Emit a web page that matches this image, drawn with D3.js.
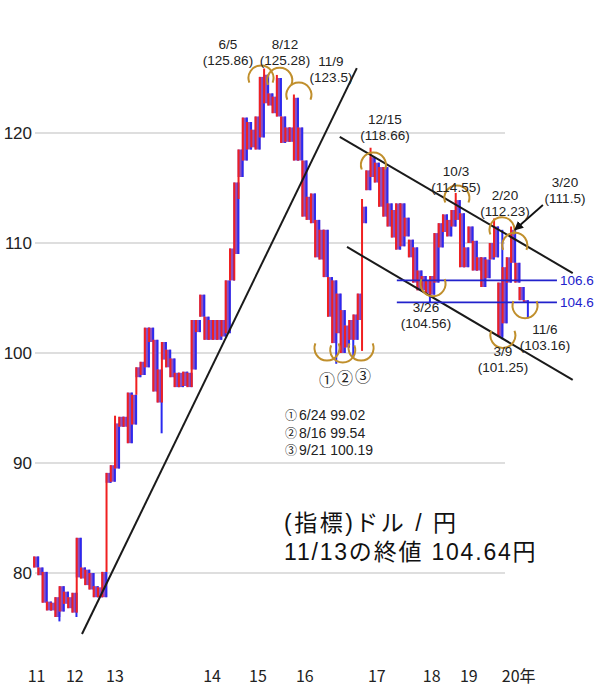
<!DOCTYPE html>
<html><head><meta charset="utf-8">
<script src="https://cdn.jsdelivr.net/npm/d3@7"></script>
<style>body{margin:0;background:#fff}svg{display:block}</style>
</head><body><svg id="c" width="600" height="686"></svg>
<script>
// ---- data ----
const opens  = [81.5,80.5,80.1,77.4,77.3,77.8,76.5,78.3,77.8,78.2,79.6,80.5,80.3,80.0,78.8,78.7,77.8,88.2,88.3,89.5,93.3,94.2,96.4,93.5,97.8,98.0,98.7,102.3,101.2,98.5,99.4,100.3,99.5,98.2,96.9,97.0,98.2,98.5,103.0,103.3,103.3,103.0,101.2,103.0,101.5,101.8,109.5,109.0,116.0,117.5,121.0,118.7,121.5,119.6,122.7,123.6,123.3,121.5,121.5,120.5,119.2,117.5,120.5,117.5,112.1,114.5,112.1,108.5,111.2,106.9,106.6,101.8,103.9,100.5,103.0,101.2,103.0,111.8,114.8,116.0,117.3,116.9,116.9,113.6,113.0,113.6,113.6,112.3,110.3,109.6,107.5,107.0,106.6,105.3,106.4,109.6,111.0,112.1,111.5,112.1,112.7,109.6,110.0,110.2,108.7,108.7,108.5,108.5,108.7,106.4,102.7,108.7,108.2,108.2,106.0,104.8];
const closes = [80.5,79.8,77.3,76.6,76.6,76.0,78.8,77.2,76.8,76.4,83.2,79.5,78.9,78.5,77.8,77.8,80.1,89.1,89.8,93.6,94.2,93.3,91.8,96.2,98.7,99.2,102.3,101.0,96.5,95.5,101.0,98.7,97.8,96.9,98.2,98.3,96.9,103.0,101.9,105.3,101.2,101.2,103.0,101.2,103.0,106.6,106.6,115.5,118.5,121.4,118.5,120.3,118.5,125.1,125.3,122.5,121.8,125.0,119.1,119.2,120.5,123.2,117.5,112.4,114.2,111.8,108.7,111.2,106.9,103.3,100.9,105.4,100.0,102.5,101.2,103.5,105.4,113.3,116.6,117.8,115.5,113.3,112.4,111.5,110.5,109.4,109.7,110.6,108.7,106.4,105.7,105.7,105.4,107.0,110.9,111.8,112.6,110.6,113.0,113.9,107.8,107.8,111.5,107.5,107.5,106.0,106.8,110.0,111.5,101.5,107.8,106.4,111.2,106.4,104.8,104.64];
// extreme wicks (bar index -> value), others follow the body
const highExtra = {19:94.3, 54:125.86, 57:125.28, 61:123.5, 77:114.0, 79:118.66, 99:114.55, 108:112.23, 109:111.2, 112:111.5};
const lowExtra  = {5:75.6, 9:76.0, 10:76.4, 17:80.1, 24:96.2, 29:92.7, 30:95.5, 37:96.9, 47:106.6, 48:114.0, 70:99.02, 74:99.54, 77:100.19, 92:104.56, 109:101.25, 115:103.16};

const yTicks = [80, 90, 100, 110, 120];
const yearPos = [0.6, 9.6, 19.0, 41.8, 52.6, 63.6, 80.5, 93.4, 102.1, 112.2];
const yearLabels = ["11","12","13","14","15","16","17","18","19","20年"];

// trend lines [pos, price]
const trendLines = [
  [[11.27, 74.45], [75.8, 125.9]],
  [[71.8, 119.64], [126.5, 107.27]],
  [[73.5, 109.64], [126.5, 97.55]]
];
const levelValues = [106.6, 104.6];
const levelRange = [85.2, 122.8];

// arcs: pos, price, type
const arcPos   = [53.3, 57.7, 62.2, 79.7, 99.3, 109.9, 112.9, 68.8, 72.5, 76.8, 93.7, 110.1, 115.3];
const arcPrice = [125.0, 124.8, 123.45, 117.1, 114.1, 111.2, 109.8, 100.45, 100.27, 100.45, 106.3, 101.6, 104.3];
const arcType  = ["peak","peak","peak","peak","peak","peak","peak","trough","trough","trough","trough","trough","trough"];

// ---- drawing ----
const N = opens.length;
const svg = d3.select("#c");
const x = d3.scaleLinear().domain([0, N]).range([34, 528]);
const y = d3.scaleLinear().domain([80, 120]).range([573, 133]);
const JP = "'Noto Sans CJK JP', sans-serif";
const LAT = "'Liberation Sans', Arial, sans-serif";
const LATJP = "'Liberation Sans', 'Noto Sans CJK JP', sans-serif";

// grid
svg.append("g").selectAll("line").data(yTicks).join("line")
  .attr("x1", 35).attr("x2", 505).attr("y1", d => y(d)).attr("y2", d => y(d))
  .attr("stroke", "#dedede").attr("stroke-width", 2);
svg.append("g").selectAll("text").data(yTicks).join("text")
  .attr("x", 32).attr("y", d => y(d) + 6).attr("text-anchor", "end")
  .attr("font-family", LAT).attr("font-size", 17).attr("fill", "#222")
  .text(d => d);

// year labels
svg.append("g").selectAll("text").data(yearLabels).join("text")
  .attr("x", (d, i) => x(yearPos[i])).attr("y", 682)
  .attr("text-anchor", (d, i) => i === yearLabels.length - 1 ? "start" : "middle")
  .attr("dx", (d, i) => i === yearLabels.length - 1 ? -10 : 0)
  .attr("font-family", JP).attr("font-size", 16).attr("fill", "#222")
  .text(d => d);

// bars
const bars = opens.map((o, i) => {
  const c = closes[i];
  const hi = highExtra[i] !== undefined ? Math.max(highExtra[i], o, c) : Math.max(o, c);
  const lo = lowExtra[i] !== undefined ? Math.min(lowExtra[i], o, c) : Math.min(o, c);
  return {i, o, c, hi, lo, up: c >= o};
});
const bw = 6;
const gb = svg.append("g");
bars.forEach(b => {
  const cx = x(b.i + 0.5);
  const top = y(Math.max(b.o, b.c)), bot = y(Math.min(b.o, b.c));
  gb.append("rect").attr("x", cx - bw / 2).attr("y", top).attr("width", bw)
    .attr("height", Math.max(2, bot - top)).attr("fill", "#9050c0");
  gb.append("line").attr("x1", cx - bw / 2 + 1).attr("x2", cx - bw / 2 + 1)
    .attr("y1", b.up ? y(b.hi) : top).attr("y2", b.up ? y(b.lo) : bot)
    .attr("stroke", "#f02020").attr("stroke-width", 2);
  gb.append("line").attr("x1", cx + bw / 2 - 1).attr("x2", cx + bw / 2 - 1)
    .attr("y1", b.up ? top : y(b.hi)).attr("y2", b.up ? bot : y(b.lo))
    .attr("stroke", "#2a2af0").attr("stroke-width", 2);
});

// trend lines
svg.append("g").selectAll("line").data(trendLines).join("line")
  .attr("x1", d => x(d[0][0])).attr("y1", d => y(d[0][1]))
  .attr("x2", d => x(d[1][0])).attr("y2", d => y(d[1][1]))
  .attr("stroke", "#1a1a1a").attr("stroke-width", 2);

// level lines
svg.append("g").selectAll("line").data(levelValues).join("line")
  .attr("x1", x(levelRange[0])).attr("x2", x(levelRange[1]))
  .attr("y1", d => y(d)).attr("y2", d => y(d))
  .attr("stroke", "#2222cc").attr("stroke-width", 1.6);
svg.append("g").selectAll("text").data(levelValues).join("text")
  .attr("x", x(levelRange[1]) + 3).attr("y", d => y(d) + 5)
  .attr("font-family", LAT).attr("font-size", 13.5).attr("fill", "#2222cc")
  .text(d => d.toFixed(1));

// arcs
const arcGen = d3.arc();
svg.append("g").selectAll("path").data(arcPos).join("path")
  .attr("transform", (d, i) => `translate(${x(d)},${y(arcPrice[i])})`)
  .attr("d", (d, i) => {
    const r = 12.5;
    return arcType[i] === "peak"
      ? arcGen({innerRadius: r, outerRadius: r, startAngle: -0.62 * Math.PI, endAngle: 0.62 * Math.PI})
      : arcGen({innerRadius: r, outerRadius: r, startAngle: 0.38 * Math.PI, endAngle: 1.62 * Math.PI});
  })
  .attr("fill", "none").attr("stroke", "#c08f2c").attr("stroke-width", 2);

// arrow
const defs = svg.append("defs");
defs.append("marker").attr("id", "ah").attr("viewBox", "0 0 10 10").attr("refX", 9).attr("refY", 5)
  .attr("markerWidth", 5).attr("markerHeight", 5).attr("orient", "auto")
  .append("path").attr("d", "M0,0L10,5L0,10z").attr("fill", "#111");
svg.append("line").attr("x1", x(119.5)).attr("y1", y(113.45)).attr("x2", x(112.9)).attr("y2", y(111.2))
  .attr("stroke", "#111").attr("stroke-width", 1.8).attr("marker-end", "url(#ah)");

// annotation texts: [date, value, x, y of first line]
const notes = [
  ["6/5", "(125.86)", 228, 49],
  ["8/12", "(125.28)", 285, 49],
  ["11/9", "(123.5)", 331, 66],
  ["12/15", "(118.66)", 385, 124],
  ["10/3", "(114.55)", 456, 176],
  ["2/20", "(112.23)", 505, 200],
  ["3/20", "(111.5)", 565, 187],
  ["3/26", "(104.56)", 426, 312],
  ["11/6", "(103.16)", 545, 334],
  ["3/9", "(101.25)", 503, 356]
];
const nt = svg.append("g").selectAll("text").data(notes).join("text")
  .attr("x", d => d[2]).attr("y", d => d[3]).attr("text-anchor", "middle")
  .attr("font-family", LAT).attr("font-size", 13.5).attr("fill", "#222");
nt.append("tspan").attr("x", d => d[2]).text(d => d[0]);
nt.append("tspan").attr("x", d => d[2]).attr("dy", 16).text(d => d[1]);

// circled numbers under troughs
const circled = [["①", 327, 386], ["②", 345, 384], ["③", 363, 382]];
svg.append("g").selectAll("text").data(circled).join("text")
  .attr("x", d => d[1]).attr("y", d => d[2]).attr("text-anchor", "middle")
  .attr("font-family", JP).attr("font-size", 16).attr("fill", "#222").text(d => d[0]);

// legend of the three lows
const lowMarks = ["①", "②", "③"];
const lowTexts = ["6/24 99.02", "8/16 99.54", "9/21 100.19"];
svg.append("g").selectAll("text").data(lowMarks).join("text")
  .attr("x", 285).attr("y", (d, i) => 420 + i * 17.5)
  .attr("font-family", JP).attr("font-size", 12).attr("fill", "#222").text(d => d);
svg.append("g").selectAll("text").data(lowTexts).join("text")
  .attr("x", 299).attr("y", (d, i) => 420 + i * 17.5)
  .attr("font-family", LAT).attr("font-size", 14).attr("fill", "#222").text(d => d);

// title block
svg.append("text").attr("x", 284).attr("y", 531).attr("font-family", LATJP).attr("font-size", 23)
  .attr("letter-spacing", 2.5).attr("fill", "#111").text("(指標)ドル / 円");
svg.append("text").attr("x", 284).attr("y", 560).attr("font-family", LATJP).attr("font-size", 23)
  .attr("letter-spacing", 1.8).attr("fill", "#111").text("11/13の終値 104.64円");
</script></body></html>
